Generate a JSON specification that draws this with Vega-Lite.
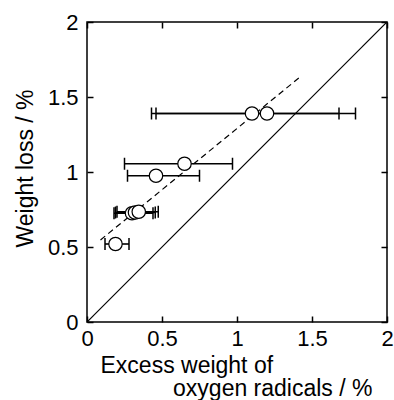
{
  "$schema": "https://vega.github.io/schema/vega-lite/v6.json",
  "width": 300,
  "height": 300,
  "autosize": {"type": "none"},
  "padding": {"left": 87, "top": 22, "right": 7, "bottom": 78},
  "background": "white",
  "config": {
    "font": "Liberation Sans",
    "view": {"stroke": "black", "strokeWidth": 1.5},
    "axis": {
      "grid": false,
      "domain": false,
      "tickColor": "black",
      "tickSize": 6,
      "tickWidth": 1.5,
      "tickOpacity": 1,
      "labelColor": "black",
      "labelFontSize": 22,
      "labelFont": "Liberation Sans",
      "titleFont": "Liberation Sans",
      "titleFontSize": 23,
      "titleFontWeight": "normal",
      "titleColor": "black"
    }
  },
  "datasets": {
    "pts": [
      {"x": 1.10, "y": 1.39, "xlo": 0.43, "xhi": 1.68},
      {"x": 1.20, "y": 1.39, "xlo": 0.46, "xhi": 1.79},
      {"x": 0.65, "y": 1.055, "xlo": 0.25, "xhi": 0.97},
      {"x": 0.46, "y": 0.975, "xlo": 0.27, "xhi": 0.75},
      {"x": 0.30, "y": 0.725, "xlo": 0.18, "xhi": 0.44},
      {"x": 0.32, "y": 0.73, "xlo": 0.19, "xhi": 0.455},
      {"x": 0.345, "y": 0.735, "xlo": 0.20, "xhi": 0.475},
      {"x": 0.19, "y": 0.52, "xlo": 0.12, "xhi": 0.28}
    ],
    "diag": [{"x": 0, "y": 0}, {"x": 2, "y": 2}],
    "fit": [{"x": 0.09, "y": 0.547}, {"x": 1.415, "y": 1.629}]
  },
  "layer": [
    {
      "data": {"name": "diag"},
      "mark": {"type": "line", "color": "black", "strokeWidth": 1.2, "clip": true},
      "encoding": {
        "x": {"field": "x", "type": "quantitative", "scale": {"domain": [0, 2]},
          "axis": {"orient": "bottom", "values": [0, 0.5, 1, 1.5, 2], "format": "~g", "ticks": false, "tickSize": 0, "labelPadding": 6,
            "title": "Excess weight of", "titleX": 13, "titleY": 50, "titleAlign": "left", "titleBaseline": "alphabetic", "labelFlush": false, "labelOverlap": false}},
        "y": {"field": "y", "type": "quantitative", "scale": {"domain": [0, 2]},
          "axis": {"orient": "left", "values": [0, 0.5, 1, 1.5, 2], "format": "~g", "ticks": false, "tickSize": 0, "labelPadding": 9,
            "title": "Weight loss / %", "titleX": -55, "titleY": 146, "titleAngle": 270, "titleAlign": "center", "titleBaseline": "alphabetic", "labelFlush": false, "labelOverlap": false}}
      }
    },
    {
      "data": {"name": "fit"},
      "mark": {"type": "line", "color": "black", "strokeWidth": 1.2, "strokeDash": [6, 4]},
      "encoding": {
        "x": {"field": "x", "type": "quantitative",
          "axis": {"orient": "top", "offset": -300, "values": [0, 0.5, 1, 1.5, 2], "labels": false, "title": null}},
        "y": {"field": "y", "type": "quantitative",
          "axis": {"orient": "right", "offset": -300, "values": [0, 0.5, 1, 1.5, 2], "labels": false, "title": null}}
      }
    },
    {
      "data": {"name": "pts"},
      "mark": {"type": "rule", "color": "black", "strokeWidth": 1.6},
      "encoding": {
        "x": {"field": "xlo", "type": "quantitative",
          "axis": {"orient": "bottom", "offset": -300, "values": [0, 0.5, 1, 1.5, 2], "labels": false, "title": null}},
        "x2": {"field": "xhi"},
        "y": {"field": "y", "type": "quantitative",
          "axis": {"orient": "left", "offset": -300, "values": [0, 0.5, 1, 1.5, 2], "labels": false, "title": null}}
      }
    },
    {
      "data": {"name": "pts"},
      "mark": {"type": "tick", "color": "black", "orient": "vertical", "size": 12, "thickness": 1.5, "opacity": 1},
      "encoding": {
        "x": {"field": "xlo", "type": "quantitative",
          "axis": {"orient": "top", "ticks": false, "labels": false, "title": "oxygen radicals / %", "titleX": 285, "titleY": 373, "titleAlign": "right", "titleBaseline": "alphabetic"}},
        "y": {"field": "y", "type": "quantitative", "axis": null}
      }
    },
    {
      "data": {"name": "pts"},
      "mark": {"type": "tick", "color": "black", "orient": "vertical", "size": 12, "thickness": 1.5, "opacity": 1},
      "encoding": {
        "x": {"field": "xhi", "type": "quantitative", "axis": null},
        "y": {"field": "y", "type": "quantitative", "axis": null}
      }
    },
    {
      "data": {"name": "pts"},
      "mark": {"type": "point", "shape": "circle", "filled": false, "fill": "white", "fillOpacity": 1, "stroke": "black", "strokeWidth": 1.2, "size": 180, "opacity": 1},
      "encoding": {
        "x": {"field": "x", "type": "quantitative", "axis": null},
        "y": {"field": "y", "type": "quantitative", "axis": null}
      }
    }
  ],
  "resolve": {"axis": {"x": "independent", "y": "independent"}}
}
